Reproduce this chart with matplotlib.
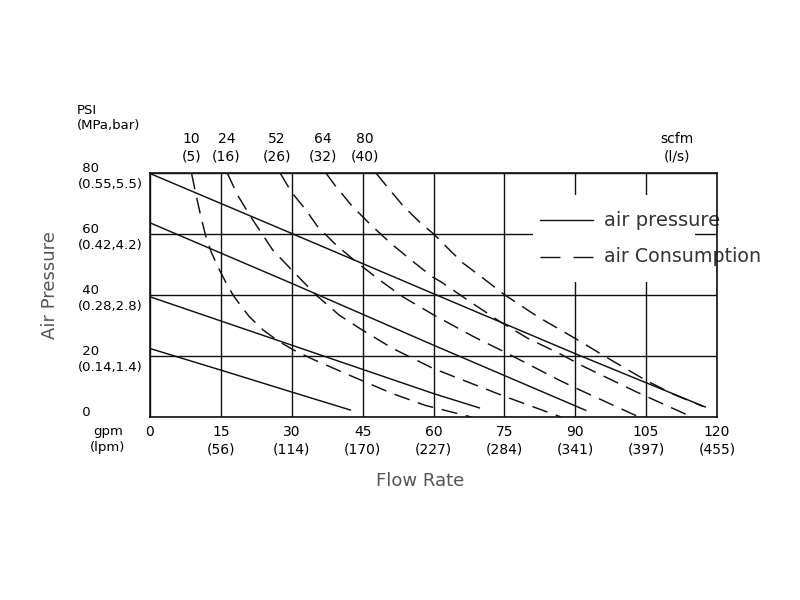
import matplotlib
matplotlib.use('Agg')
import matplotlib.pyplot as plt
from matplotlib.patches import Rectangle

plt.rcParams['font.family'] = ['DejaVu Sans']

# ---- data ----
flow_ticks = [0, 15, 30, 45, 60, 75, 90, 105, 120]
flow_lpm = ['', '56', '114', '170', '227', '284', '341', '397', '455']
psi_ticks = [0, 20, 40, 60, 80]
psi_sub = ['', '0.14,1.4', '0.28,2.8', '0.42,4.2', '0.55,5.5']

# air pressure lines (solid), straight runs
p80_x = [0, 30, 60, 90, 117.5]
p80_y = [80, 60.3, 40.5, 20.8, 3.3]
p60_x = [0, 30, 60, 92.2]
p60_y = [63.8, 43.9, 23.6, 2.2]
p40_x = [0, 30, 60, 69.7]
p40_y = [39.5, 23.6, 7.7, 3.0]
p20_x = [0, 15, 30, 42.4]
p20_y = [22.5, 15.4, 8.2, 2.3]

# air consumption curves (dashed), scfm
scfm = [10, 24, 52, 64, 80]
lps = [5, 16, 26, 32, 40]
c10_x = [8.8, 9.6, 10.6, 11.7, 13.0, 14.8, 16.3, 17.6, 19, 21, 24, 27.4, 31, 35, 43, 51.3, 58.3, 68]
c10_y = [80, 74, 67, 60, 54, 48, 43.5, 40, 37, 33, 28.5, 24.7, 21.5, 18.6, 13.2, 7.7, 3.8, 0]
c24_x = [16.4, 18.5, 21.1, 26, 30, 35.2, 40.1, 45, 51.4, 60, 75, 87]
c24_y = [80, 73, 66.3, 54.8, 48.3, 40, 33.4, 28.5, 22.5, 15.9, 6.8, 0]
c52_x = [27.6, 29.9, 33, 35.5, 39.4, 44, 48.6, 53.5, 60.2, 68.6, 75, 86.6, 90.8, 103.5]
c52_y = [80, 74, 68, 62.5, 56.5, 50.5, 45, 39.5, 33.4, 26.3, 21.4, 12.1, 9.0, 0]
c64_x = [37.3, 39.1, 42.6, 46.8, 51, 55.3, 59.8, 61.6, 68, 74.2, 80, 86.6, 91.5, 103, 114.7]
c64_y = [80, 76.2, 69.6, 63, 57, 51.5, 46, 44.4, 37.6, 31.2, 25.8, 20.9, 16.8, 8.2, 0]
c80_x = [47.9, 50, 53.5, 57.4, 60, 63, 66.3, 71, 75, 82, 90, 97.5, 105, 111, 117]
c80_y = [80, 76, 69.5, 63.5, 60.2, 55.5, 50.5, 45, 40.2, 33, 25.8, 18.8, 12, 7.3, 3.5]

pressure_lines = [(p80_x, p80_y), (p60_x, p60_y), (p40_x, p40_y), (p20_x, p20_y)]
air_curves = [(c10_x, c10_y), (c24_x, c24_y), (c52_x, c52_y), (c64_x, c64_y), (c80_x, c80_y)]
# where the scfm labels sit above each curve start
top_label_shift = [0, -0.2, -0.8, -0.7, -2.4]

fig = plt.figure(figsize=(8, 6), dpi=100)
fig.patch.set_facecolor('white')
ax = fig.add_axes([150 / 800, 1 - 417 / 600, 567 / 800, 243.5 / 600])
ax.set_xlim(0, 120)
ax.set_ylim(0, 80)

ax.set_xticks(flow_ticks)
ax.set_xticklabels([f'{v}\n({l})' if l else f'{v}\n ' for v, l in zip(flow_ticks, flow_lpm)],
                   fontsize=10, linespacing=1.3)
ax.set_yticks(psi_ticks)
ax.set_yticklabels([f' {v}\n({s})' if s else f' {v}\n ' for v, s in zip(psi_ticks, psi_sub)],
                   fontsize=9.5, linespacing=1.3)
for lab in ax.get_yticklabels():
    lab.set_horizontalalignment('left')
    lab.set_multialignment('left')
ax.tick_params(axis='x', length=0, pad=6)
ax.tick_params(axis='y', length=0, pad=52)
ax.grid(True, color='#111111', linewidth=1.0, zorder=1)
ax.set_axisbelow(True)
for sp in ax.spines.values():
    sp.set_linewidth(1.2)
    sp.set_color('#111111')
    sp.set_zorder(6)

for xs, ys in pressure_lines:
    ax.plot(xs, ys, color='#111111', linewidth=1.05, zorder=3)
for xs, ys in air_curves:
    ax.plot(xs, ys, color='#111111', linewidth=1.05, dashes=(11, 6), zorder=3)

# scfm labels above the plot
for val, l, (xs, ys), dx in zip(scfm, lps, air_curves, top_label_shift):
    ax.text(xs[0] + dx, 1.105, f'{val}\n({l})', transform=ax.get_xaxis_transform(),
            ha='center', va='center', fontsize=10, linespacing=1.3)
ax.text(111.5, 1.105, 'scfm\n(l/s)', transform=ax.get_xaxis_transform(),
        ha='center', va='center', fontsize=10, linespacing=1.3)

# legend box
ax.add_patch(Rectangle((0.675, 0.554), 0.286, 0.358, transform=ax.transAxes,
                       facecolor='white', edgecolor='none', zorder=2))
ax.plot([0.688, 0.781], [0.809, 0.809], transform=ax.transAxes, color='#111111',
        linewidth=1.0, zorder=4)
ax.plot([0.688, 0.781], [0.658, 0.658], transform=ax.transAxes, color='#111111',
        linewidth=1.0, dashes=(14.4, 9.4), zorder=4)
ax.text(0.800, 0.809, 'air pressure', transform=ax.transAxes, ha='left', va='center',
        fontsize=14, color='#333333', zorder=5)
ax.text(0.800, 0.658, 'air Consumption', transform=ax.transAxes, ha='left', va='center',
        fontsize=13.7, color='#333333', zorder=5, clip_on=False)

# corner captions
fig.text(77 / 800, 1 - 118 / 600, 'PSI\n(MPa,bar)', ha='left', va='center',
         fontsize=9.5, linespacing=1.3, multialignment='left')
fig.text(108 / 800, 1 - 439 / 600, 'gpm\n(lpm)', ha='center', va='center',
         fontsize=9.5, linespacing=1.3)

fig.text(50 / 800, 1 - 285 / 600, 'Air Pressure', rotation=90, ha='center', va='center',
         fontsize=13, color='#555555')
fig.text(420 / 800, 1 - 481 / 600, 'Flow Rate', ha='center', va='center',
         fontsize=13, color='#555555')

fig.savefig('out.png', dpi=100, facecolor='white')
